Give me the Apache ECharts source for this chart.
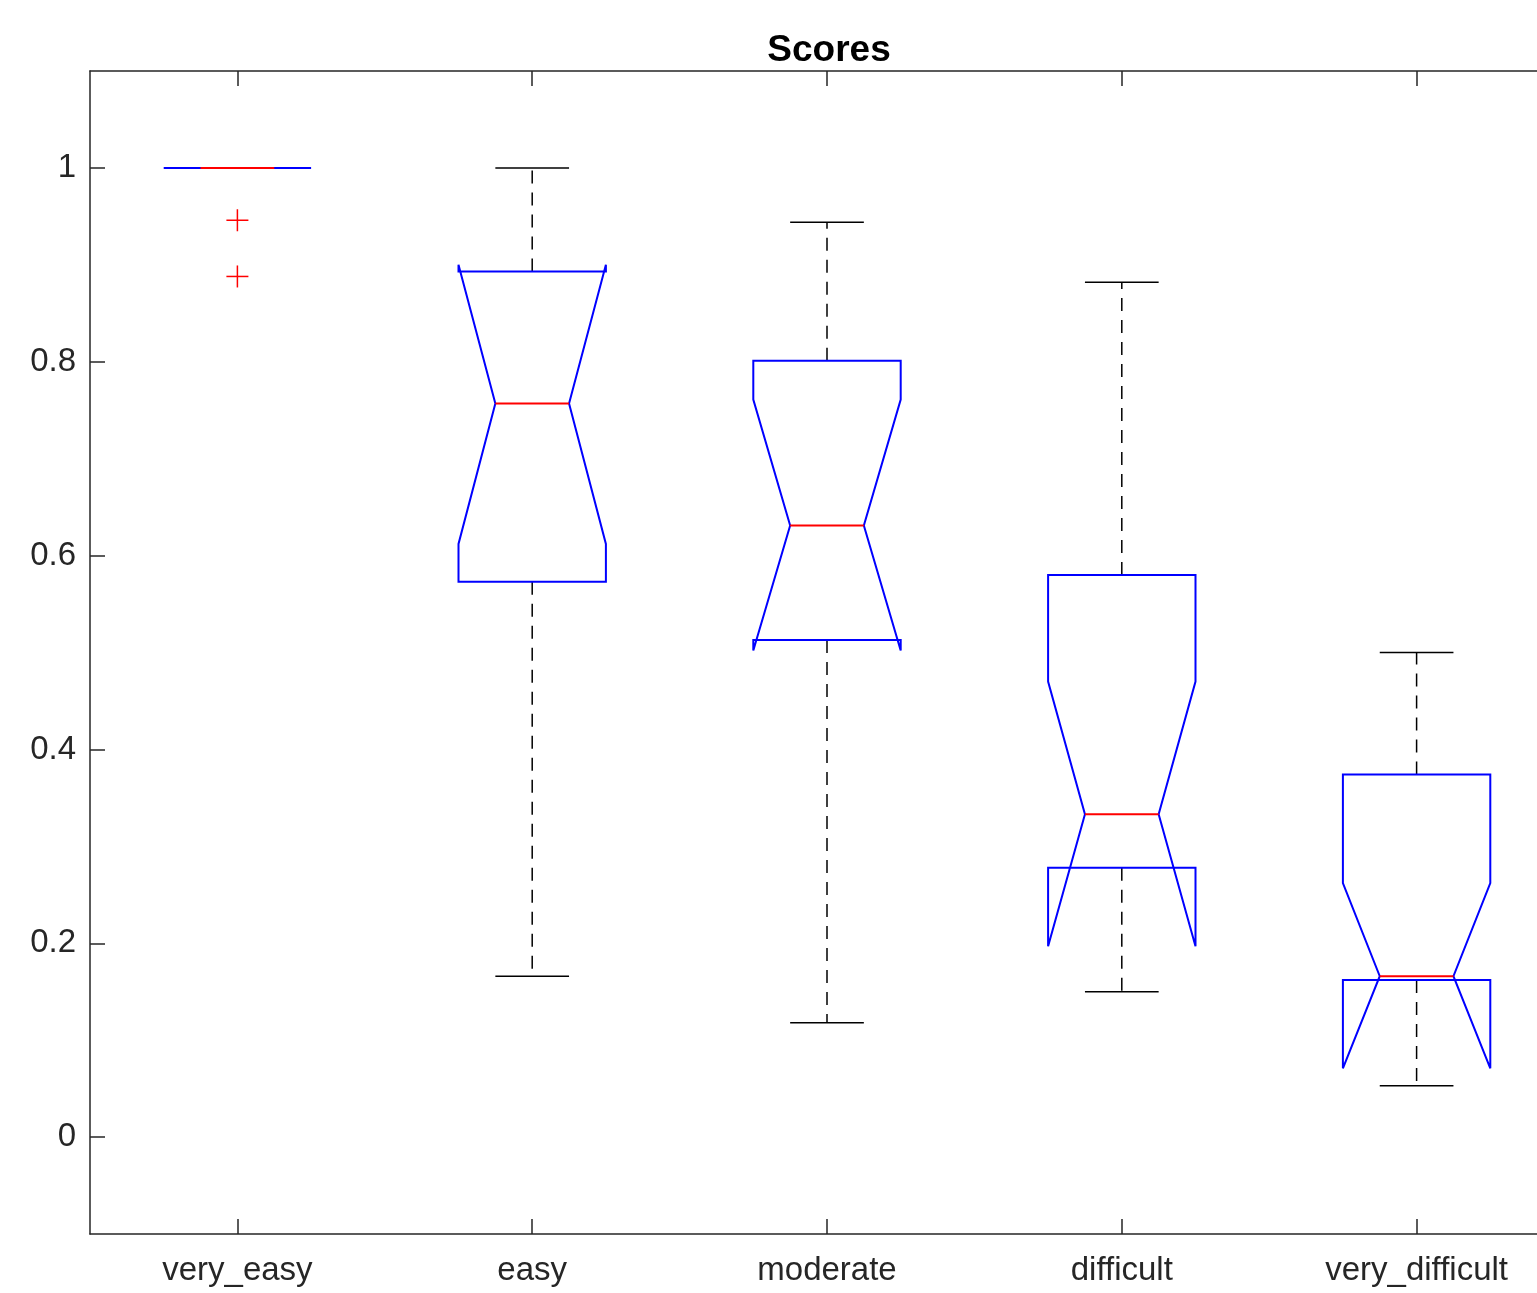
<!DOCTYPE html>
<html>
<head>
<meta charset="utf-8">
<script src="https://cdn.jsdelivr.net/npm/echarts@6/dist/echarts.min.js"></script>
<style>
  html, body { margin: 0; padding: 0; background: #fff; }
  #main { width: 1537px; height: 1293px; }
</style>
</head>
<body>
<div id="main"></div>
<script>
// categories and box statistics
var categories = ['very_easy', 'easy', 'moderate', 'difficult', 'very_difficult'];
var whiskerLow  = [1.000, 0.166, 0.118, 0.150, 0.053];
var q1          = [1.000, 0.573, 0.513, 0.278, 0.162];
var notchLow    = [1.000, 0.612, 0.502, 0.197, 0.071];
var medians     = [1.000, 0.757, 0.631, 0.333, 0.166];
var notchHigh   = [1.000, 0.900, 0.761, 0.470, 0.262];
var q3          = [1.000, 0.893, 0.801, 0.580, 0.374];
var whiskerHigh = [1.000, 1.000, 0.944, 0.882, 0.500];
// outliers: [category index, value]
var outliers = [[0, 0.946], [0, 0.888]];
var yTicks = [0, 0.2, 0.4, 0.6, 0.8, 1];

var axisColor = '#262626';
var fontFam = '"Liberation Sans", Arial, Helvetica, sans-serif';

var boxData = categories.map(function (c, i) {
    return [i, whiskerLow[i], q1[i], notchLow[i], medians[i], notchHigh[i], q3[i], whiskerHigh[i]];
});

function renderBox(params, api) {
    var idx = api.value(0);
    var band = api.size([1, 0])[0];
    var w = band * 0.25;
    var cx = api.coord([idx, 0])[0];
    function y(v) { return api.coord([idx, v])[1]; }
    var yWl = y(api.value(1)), yQ1 = y(api.value(2)), yNl = y(api.value(3));
    var yMed = y(api.value(4)), yNh = y(api.value(5)), yQ3 = y(api.value(6)), yWh = y(api.value(7));
    var dash = { stroke: '#000', lineWidth: 1.5, lineDash: [13, 9] };
    var solid = { stroke: '#000', lineWidth: 1.5 };
    var children = [];
    if (yWh < yQ3) {
        children.push({ type: 'line', shape: { x1: cx, y1: yQ3, x2: cx, y2: yWh }, style: dash });
        children.push({ type: 'line', shape: { x1: cx - w / 2, y1: yWh, x2: cx + w / 2, y2: yWh }, style: solid });
    }
    if (yWl > yQ1) {
        children.push({ type: 'line', shape: { x1: cx, y1: yQ1, x2: cx, y2: yWl }, style: dash });
        children.push({ type: 'line', shape: { x1: cx - w / 2, y1: yWl, x2: cx + w / 2, y2: yWl }, style: solid });
    }
    var pts = [
        [cx - w, yQ1], [cx - w, yNl], [cx - w / 2, yMed], [cx - w, yNh], [cx - w, yQ3],
        [cx + w, yQ3], [cx + w, yNh], [cx + w / 2, yMed], [cx + w, yNl], [cx + w, yQ1]
    ];
    children.push({ type: 'polygon', shape: { points: pts },
        style: { fill: 'none', stroke: '#0000ff', lineWidth: 2, lineJoin: 'miter', miterLimit: 2 } });
    children.push({ type: 'line', shape: { x1: cx - w / 2, y1: yMed, x2: cx + w / 2, y2: yMed },
        style: { stroke: '#ff0000', lineWidth: 2 } });
    return { type: 'group', children: children };
}

function renderPlus(params, api) {
    var p = api.coord([api.value(0), api.value(1)]);
    var s = 11;
    var st = { stroke: '#ff0000', lineWidth: 1.5 };
    return { type: 'group', children: [
        { type: 'line', shape: { x1: p[0] - s, y1: p[1], x2: p[0] + s, y2: p[1] }, style: st },
        { type: 'line', shape: { x1: p[0], y1: p[1] - s, x2: p[0], y2: p[1] + s }, style: st }
    ] };
}

var myChart = echarts.init(document.getElementById('main'));

var tickStyle = { color: axisColor, width: 1.5 };

var option = {
    backgroundColor: '#fff',
    animation: false,
    title: {
        text: 'Scores',
        left: 824,
        top: 27,
        textAlign: 'center',
        textStyle: { fontFamily: fontFam, fontSize: 37, fontWeight: 'bold', color: '#000' }
    },
    grid: { left: 90, top: 71, width: 1474, height: 1163, outerBoundsMode: 'none', containLabel: false },
    xAxis: [
        {
            type: 'category',
            data: categories,
            position: 'bottom',
            boundaryGap: true,
            axisLine: { onZero: false, lineStyle: { color: axisColor, width: 1.5 } },
            axisTick: { show: true, interval: 0, alignWithLabel: true, inside: true, length: 15, lineStyle: tickStyle },
            axisLabel: { interval: 0, margin: 20, fontFamily: fontFam, fontSize: 33, color: '#262626' },
            splitLine: { show: false }
        },
        {
            type: 'category',
            data: categories,
            position: 'top',
            boundaryGap: true,
            axisLine: { onZero: false, lineStyle: { color: axisColor, width: 1.5 } },
            axisTick: { show: true, interval: 0, alignWithLabel: true, inside: true, length: 15, lineStyle: tickStyle },
            axisLabel: { show: false },
            splitLine: { show: false }
        }
    ],
    yAxis: {
        type: 'value',
        min: -0.1,
        max: 1.1,
        axisLine: { show: true, lineStyle: { color: axisColor, width: 1.5 } },
        axisTick: { show: true, inside: true, length: 15, customValues: yTicks, lineStyle: tickStyle },
        axisLabel: { margin: 14, fontFamily: fontFam, fontSize: 33, color: '#262626',
            customValues: yTicks, formatter: function (v) { return String(+v.toFixed(2)); } },
        splitLine: { show: false }
    },
    series: [
        {
            type: 'custom',
            name: 'boxes',
            renderItem: renderBox,
            encode: { x: 0, y: [1, 2, 3, 4, 5, 6, 7] },
            data: boxData,
            silent: true
        },
        {
            type: 'custom',
            name: 'outliers',
            renderItem: renderPlus,
            encode: { x: 0, y: 1 },
            data: outliers,
            silent: true
        }
    ]
};
myChart.setOption(option);
</script>
</body>
</html>
